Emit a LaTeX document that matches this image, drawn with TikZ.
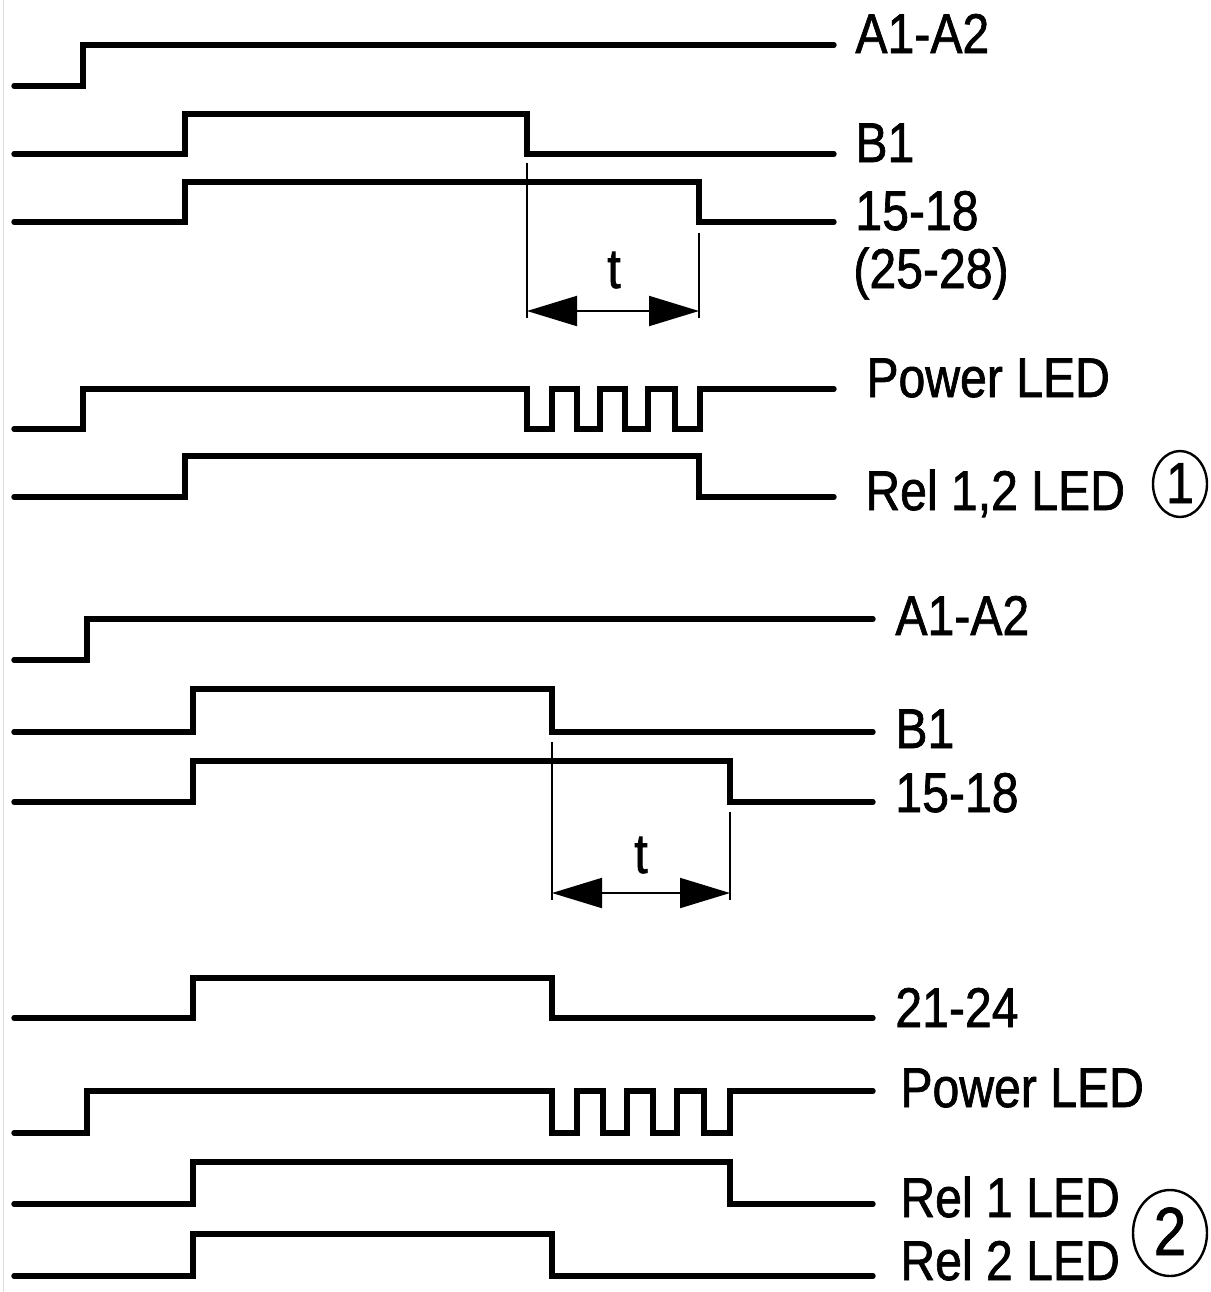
\documentclass[tikz,border=0pt]{standalone}
\usepackage{fontspec}
\setmainfont{Liberation Sans}[FakeStretch=0.86,FakeBold=1.2]
\usetikzlibrary{arrows.meta}
\begin{document}
\begin{tikzpicture}[x=0.5pt,y=-0.5pt,
  sig/.style={line width=2.7pt, line cap=round, line join=miter},
  markline/.style={line width=1pt},
  dimarrow/.style={line width=1pt, {Triangle[length=25pt,width=15pt]}-{Triangle[length=25pt,width=15pt]}},
  lab/.style={anchor=base west, inner sep=0pt, font=\fontsize{28}{30}\selectfont},
  tlab/.style={anchor=base, inner sep=0pt, font=\fontsize{28}{30}\selectfont},
  numring/.style={line width=1.2pt}]
\useasboundingbox (0,0) rectangle (1211,1292);
\draw[gray!25, line width=0.5pt] (3,0) -- (3,1292);

% ---------- upper diagram ----------
\draw[sig] (14,86) -- (83,86) -- (83,45) -- (834,45);
\draw[sig] (14,154) -- (185,154) -- (185,114) -- (527,114) -- (527,154) -- (834,154);
\draw[sig] (14,222) -- (185,222) -- (185,182) -- (699,182) -- (699,222) -- (834,222);
\draw[sig] (14,429) -- (83,429) -- (83,389) -- (527,389) -- (527,429) -- (552,429) -- (552,389)
  -- (577,389) -- (577,429) -- (600,429) -- (600,389) -- (625,389) -- (625,429) -- (648,429)
  -- (648,389) -- (675,389) -- (675,429) -- (700,429) -- (700,389) -- (834,389);
\draw[sig] (14,497) -- (185,497) -- (185,456) -- (699,456) -- (699,497) -- (834,497);

\coordinate (ta1) at (527,163);
\coordinate (ta2) at (527,318);
\coordinate (tb1) at (699,233);
\coordinate (tb2) at (699,318);
\coordinate (tl) at (527,311);
\coordinate (tr) at (699,311);
\draw[markline] (ta1) -- (ta2);
\draw[markline] (tb1) -- (tb2);
\draw[dimarrow] (tl) -- (tr);

\node[lab] (la1) at (855,53) {A1-A2};
\node[lab] (lb1) at (855,162) {B1};
\node[lab] (l1518) at (855,230) {15-18};
\node[lab] (l2528) at (853,288) {(25-28)};
\node[tlab] (lt1) at (614,288) {t};
\node[lab] (lpw1) at (866,397) {Power LED};
\node[lab] (lrel12) at (865,510) {Rel 1,2 LED};
\draw[numring] (1180,484) ellipse [x radius=27, y radius=33];
\node[tlab, font=\fontsize{29}{31}\selectfont] (c1) at (1180,503) {1};

% ---------- lower diagram ----------
\draw[sig] (14,660) -- (87,660) -- (87,619) -- (873,619);
\draw[sig] (14,732) -- (193,732) -- (193,689) -- (552,689) -- (552,732) -- (873,732);
\draw[sig] (14,802) -- (193,802) -- (193,761) -- (730,761) -- (730,802) -- (873,802);
\draw[sig] (14,1018) -- (193,1018) -- (193,978) -- (552,978) -- (552,1018) -- (873,1018);
\draw[sig] (14,1133) -- (87,1133) -- (87,1091) -- (552,1091) -- (552,1133) -- (577,1133) -- (577,1091)
  -- (603,1091) -- (603,1133) -- (627,1133) -- (627,1091) -- (653,1091) -- (653,1133) -- (677,1133)
  -- (677,1091) -- (704,1091) -- (704,1133) -- (730,1133) -- (730,1091) -- (873,1091);
\draw[sig] (14,1204) -- (193,1204) -- (193,1162) -- (730,1162) -- (730,1204) -- (873,1204);
\draw[sig] (14,1276) -- (193,1276) -- (193,1234) -- (552,1234) -- (552,1276) -- (873,1276);

\coordinate (ua1) at (552,742);
\coordinate (ua2) at (552,900);
\coordinate (ub1) at (730,812);
\coordinate (ub2) at (730,900);
\coordinate (ul) at (552,893);
\coordinate (ur) at (730,893);
\draw[markline] (ua1) -- (ua2);
\draw[markline] (ub1) -- (ub2);
\draw[dimarrow] (ul) -- (ur);

\node[lab] (ma1) at (895,635) {A1-A2};
\node[lab] (mb1) at (895,748) {B1};
\node[lab] (m1518) at (895,812) {15-18};
\node[tlab] (mt) at (641,873) {t};
\node[lab] (m2124) at (895,1027) {21-24};
\node[lab] (mpw) at (900,1107) {Power LED};
\node[lab] (mr1) at (900,1217) {Rel 1 LED};
\node[lab] (mr2) at (900,1280) {Rel 2 LED};
\draw[numring] (1170,1233) ellipse [x radius=37, y radius=43];
\node[tlab, font=\fontsize{34}{36}\selectfont] (c2) at (1170,1255) {2};
\end{tikzpicture}
\end{document}
